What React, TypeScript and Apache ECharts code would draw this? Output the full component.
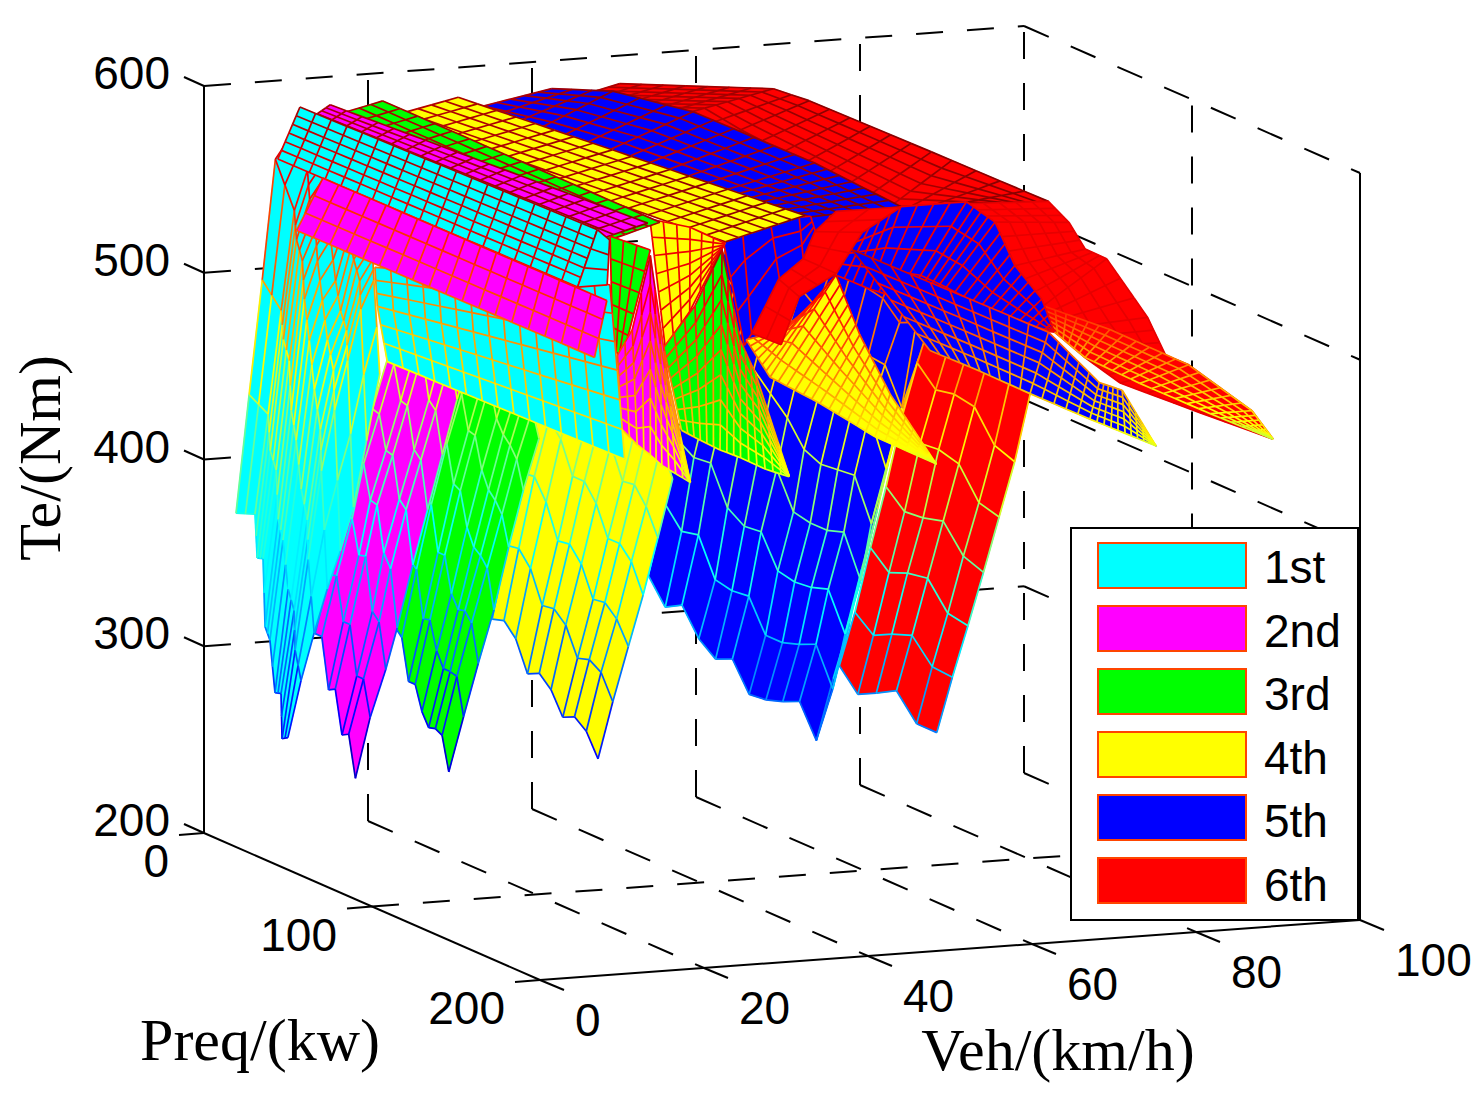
import React, { useEffect, useRef } from "react";
import * as echarts from "echarts";

type P3 = [number, number, number]; // Veh (km/h), Preq (kW), Te (Nm)

const teTicks = [200, 300, 400, 500, 600];
const preqTicks = [0, 100, 200];
const vehTicks = [0, 20, 40, 60, 80, 100];
const gearLabels = ["1st", "2nd", "3rd", "4th", "5th", "6th"];
const gearColors = ["#00ffff", "#ff00ff", "#00ff00", "#ffff00", "#0000ff", "#ff0000"];

// ---- lower walls: Te tables over Veh (rows) and Preq (columns) ----
const wall6Veh = [48.8, 50.7, 52.6, 54.5, 56.4, 58.3, 60.2];
const wall6Preq = [140, 151, 162, 174, 186, 198];
const wall6Te = [
  [329, 318, 323, 329, 316, 316],
  [357, 349, 354, 358, 346, 345],
  [391, 382, 386, 388, 374, 372],
  [423, 414, 415, 418, 404, 400],
  [459, 450, 451, 448, 432, 429],
  [488, 478, 480, 478, 462, 458],
  [514, 505, 506, 506, 497, 494],
];
const wall5Veh = [41.9, 43.9, 45.4, 47.3, 48.6, 50.4, 52.3, 54.1, 56];
const wall5Preq = [60, 70, 80, 90, 100, 110, 120, 130, 140, 150, 160, 170];
const wall5Te = [
  [348, 335, 340, 326, 319, 323, 308, 309, 312, 316, 299, 336],
  [386, 375, 377, 357, 355, 356, 339, 339, 342, 346, 326, 365],
  [420, 414, 415, 395, 389, 390, 373, 371, 372, 375, 355, 394],
  [454, 448, 449, 437, 430, 423, 404, 402, 402, 405, 383, 425],
  [483, 477, 478, 468, 459, 450, 437, 433, 434, 435, 413, 449],
  [510, 503, 504, 497, 488, 481, 466, 465, 466, 467, 442, 478],
  [530, 524, 525, 518, 514, 507, 500, 497, 494, 493, 474, 504],
  [551, 545, 546, 539, 535, 531, 527, 526, 524, 515, 519, 525],
  [567, 560, 561, 554, 553, 552, 547, 546, 545, 543, 542, 540],
];
const wall4Veh = [29, 30.8, 32.7, 34.5, 36.3, 38.1];
const wall4Preq = [30, 37, 44, 51, 58, 65, 72, 79, 86, 93];
const wall4Te = [
  [317, 319, 312, 296, 299, 293, 281, 284, 279, 267],
  [356, 357, 349, 332, 333, 327, 312, 314, 310, 297],
  [394, 395, 384, 366, 367, 359, 343, 344, 338, 326],
  [425, 425, 417, 400, 400, 391, 375, 375, 368, 353],
  [454, 454, 446, 430, 430, 422, 405, 406, 397, 383],
  [485, 485, 477, 462, 462, 454, 437, 438, 429, 414],
];
const wall3Veh = [19.2, 21, 22.8, 24.7, 26.5, 28.3, 30.2];
const wall3Preq = [20, 24, 28, 32, 36, 40, 44, 48, 52];
const wall3Te = [
  [312, 308, 286, 286, 273, 266, 267, 265, 247],
  [347, 344, 319, 320, 305, 297, 297, 296, 276],
  [382, 378, 354, 354, 335, 328, 329, 324, 304],
  [416, 410, 390, 388, 370, 361, 358, 353, 332],
  [443, 436, 418, 417, 400, 391, 387, 381, 365],
  [469, 465, 445, 444, 427, 420, 416, 410, 395],
  [495, 491, 471, 470, 453, 446, 443, 436, 422],
];
const wall2Veh = [11.5, 13.3, 15.2, 16.6, 18.5, 20.3, 22.1, 23.9, 25.8];
const wall2Preq = [10, 14, 18, 22, 26, 30, 34];
const wall2Te = [
  [307, 307, 280, 282, 259, 261, 239],
  [338, 339, 316, 316, 290, 290, 271],
  [370, 369, 351, 352, 324, 320, 296],
  [399, 398, 380, 379, 355, 348, 318],
  [425, 424, 406, 405, 383, 379, 351],
  [451, 450, 432, 431, 409, 405, 380],
  [477, 476, 459, 458, 435, 431, 409],
  [505, 504, 487, 486, 463, 458, 438],
  [526, 525, 508, 507, 487, 482, 466],
];
const wall1Veh = [3, 4.6, 6.2, 7.8, 9.4, 11, 12.6, 14.2];
const wall1Preq = [4.4, 15.7, 17, 20.5, 21.7, 24.6, 27.6, 31.2, 31.8, 35.3];
const wall1Te = [
  [372, 376, 353, 354, 318, 312, 285, 286, 262, 264],
  [435, 429, 410, 401, 375, 365, 340, 330, 309, 294],
  [496, 484, 469, 459, 433, 418, 393, 378, 357, 319],
  [560, 537, 522, 512, 492, 471, 446, 426, 404, 342],
  [570, 558, 543, 528, 512, 492, 472, 457, 436, 362],
  [580, 568, 553, 538, 523, 502, 487, 478, 462, 385],
  [581, 573, 563, 551, 538, 526, 514, 504, 489, 420],
  [576, 570, 560, 551, 543, 534, 524, 515, 504, 455],
];

// ---- upper sheets: rows of [Veh, Preq, Te] control points ----
const top6: P3[][] = [
  [[50.7, 0, 585], [63.3, 30, 590], [61.5, 60, 596], [61.7, 144, 597], [62, 200, 597]],
  [[41, 0, 575], [53.5, 30, 581], [51.8, 60, 581], [52.9, 144, 571], [52, 200, 599]],
];
const shoulder6: P3[][] = [
  [[62, 200, 597], [64.5, 200, 585], [66.5, 200, 570], [69.1, 200, 564], [74.1, 200, 531], [76.3, 200, 510], [79.1, 200, 504], [86.8, 200, 477], [89.4, 200, 461]],
  [[62.3, 150, 576], [65.7, 150, 565], [68.2, 150, 541], [71.5, 150, 518], [72.7, 150, 505], [76.7, 150, 489], [81, 150, 474], [90.7, 150, 455], [99.6, 150, 438]],
];
const tail6: P3[][] = [
  [[61.5, 200, 541], [69.5, 200, 526], [79.1, 200, 504], [86.8, 200, 477], [89.4, 200, 461]],
  [[72.7, 150, 505], [76.7, 150, 489], [83.4, 150, 473], [92, 150, 454], [99.6, 150, 438]],
];
const arch6: P3[][] = [
  [[46.3, 100, 492], [49.6, 100, 520], [52.6, 100, 530], [54, 100, 544], [56.6, 100, 554]],
  [[45.8, 120, 494], [48, 120, 519], [52.5, 120, 530], [55.7, 120, 551], [60.4, 120, 563]],
];
const top5: P3[][] = [
  [[42.4, 0, 585], [43.7, 30, 595], [49.4, 50, 590], [49.9, 120, 590], [44, 200, 600]],
  [[32.4, 0, 577], [34.8, 30, 578], [39.3, 50, 573], [39, 120, 579], [33, 200, 598]],
];
const domeR5: P3[][] = [
  [[39, 200, 588], [44, 200, 600], [52, 200, 600], [55.5, 200, 588], [57.9, 200, 564], [61.2, 200, 545], [62.7, 200, 527]],
  [[46.3, 150, 543], [50.5, 150, 534], [54.8, 150, 527], [57.8, 150, 521], [62.7, 150, 514], [67.6, 150, 507], [72.9, 150, 504]],
];
const domeL5: P3[][] = [
  [[30.6, 160, 569], [32.8, 160, 579], [36.2, 160, 581], [39.8, 160, 580], [41.2, 160, 580]],
  [[41.3, 120, 495], [42.2, 120, 501], [45.6, 120, 529], [48.5, 120, 539], [50, 120, 553]],
];
const tail5: P3[][] = [
  [[38, 200, 579], [50, 200, 553], [62, 200, 527], [68.2, 200, 498], [71, 200, 493], [75.1, 200, 462]],
  [[53.7, 170, 508], [59.8, 170, 495], [65.9, 170, 481], [73.2, 170, 465], [77.5, 170, 456], [81.3, 170, 448]],
];
const tail4: P3[][] = [
  [[30.5, 200, 539], [36.1, 200, 566], [39, 200, 533], [42.7, 200, 500], [48.3, 200, 461]],
  [[31.3, 170, 521], [34.2, 170, 500], [40.3, 170, 484], [47, 170, 464], [54.5, 170, 447]],
];
const top4: P3[][] = [
  [[31, 0, 584], [32.3, 200, 599]],
  [[21.2, 0, 575], [22.6, 200, 588]],
];
const dome4: P3[][] = [
  [[17.5, 180, 594], [22.4, 180, 588], [26.7, 180, 578]],
  [[29.6, 130, 502], [32.6, 130, 520], [36.5, 130, 552]],
];
const top3: P3[][] = [
  [[21.8, 0, 585], [21.8, 165, 585]],
  [[11.7, 0, 575], [12, 165, 573]],
];
const tail3: P3[][] = [
  [[15.1, 200, 534], [18.9, 200, 555], [22.2, 200, 584], [24.4, 200, 535], [26.3, 200, 516], [30.4, 200, 460]],
  [[23.4, 170, 475], [25.7, 170, 469], [28.1, 170, 463], [30.6, 170, 458], [33.6, 170, 451], [36.5, 170, 446]],
];
const notch3: P3[][] = [
  [[10.6, 190, 591], [15.5, 190, 582]],
  [[14, 175, 523], [15.2, 175, 519]],
];
const top2: P3[][] = [
  [[15.4, 0, 585], [15.4, 189, 596]],
  [[11.7, 0, 575], [5.7, 189, 585]],
];
const tail2: P3[][] = [
  [[11.5, 190, 527], [13.3, 190, 540], [15.5, 190, 579], [16.7, 190, 542], [17.7, 190, 512], [20.4, 190, 456]],
  [[16.1, 170, 478], [18, 170, 469], [19.6, 170, 463], [21, 170, 457], [22.7, 170, 452], [24.4, 170, 447]],
];
const mid2: P3[][] = [
  [[14.5, 0, 546], [14.5, 169, 547]],
  [[11.3, 0, 519], [13, 169, 517]],
];
const top1: P3[][] = [
  [[11.7, 0, 585], [11.7, 177, 589]],
  [[9, 0, 558], [9.3, 177, 559]],
];
const end1: P3[][] = [
  [[11.7, 177, 589], [13.2, 177, 583]],
  [[9.3, 177, 559], [12.9, 177, 559]],
];
const mid1: P3[][] = [
  [[14.7, 30, 510], [15.9, 164, 553]],
  [[15, 30, 489], [16.8, 164, 507]],
  [[16.2, 30, 459], [17.7, 164, 459]],
];

const project = (v: number, p: number, z: number) => [
  204 + 8.2 * v + 1.68 * p,
  833 - 0.6 * v + 0.735 * p - 1.8675 * (z - 200),
];

const table = (veh: number[], preq: number[], te: number[][]): P3[][] =>
  veh.map((v, r) => preq.map((p, c) => [v, p, te[r][c]] as P3));

type Sheet = { gear: number; grid: P3[][]; rows: number[] | number; cols: number[] | number; edge?: string };

const SHEETS: Sheet[] = [
  { gear: 5, grid: top6, rows: 7, cols: [7, 2, 7, 4] },
  { gear: 5, grid: shoulder6, rows: 5, cols: 3, edge: "#e60000" },
  { gear: 5, grid: tail6, rows: 5, cols: 6 },
  { gear: 4, grid: table(wall5Veh, wall5Preq, wall5Te), rows: 1, cols: 1 },
  { gear: 4, grid: top5, rows: 6, cols: [3, 3, 6, 7] },
  { gear: 4, grid: domeR5, rows: 4, cols: 4, edge: "#f00000" },
  { gear: 4, grid: domeL5, rows: 3, cols: 1, edge: "#f00000" },
  { gear: 5, grid: table(wall6Veh, wall6Preq, wall6Te), rows: 1, cols: 1 },
  { gear: 4, grid: tail5, rows: 6, cols: 5 },
  { gear: 3, grid: tail4, rows: 6, cols: 6 },
  { gear: 5, grid: arch6, rows: 2, cols: 2, edge: "#e60000" },
  { gear: 3, grid: top4, rows: 6, cols: 18 },
  { gear: 3, grid: dome4, rows: 7, cols: 3, edge: "#f00000" },
  { gear: 3, grid: table(wall4Veh, wall4Preq, wall4Te), rows: 1, cols: 1 },
  { gear: 2, grid: top3, rows: 7, cols: 16 },
  { gear: 2, grid: table(wall3Veh, wall3Preq, wall3Te), rows: 1, cols: 1 },
  { gear: 2, grid: tail3, rows: 8, cols: 3 },
  { gear: 1, grid: top2, rows: 7, cols: 20 },
  { gear: 1, grid: table(wall2Veh, wall2Preq, wall2Te), rows: 1, cols: 1 },
  { gear: 2, grid: notch3, rows: 5, cols: 3, edge: "#f00000" },
  { gear: 1, grid: tail2, rows: 7, cols: 2 },
  { gear: 0, grid: table(wall1Veh, wall1Preq, wall1Te), rows: 1, cols: 2 },
  { gear: 0, grid: mid1, rows: 3, cols: 15 },
  { gear: 0, grid: top1, rows: 6, cols: 19 },
  { gear: 0, grid: end1, rows: 3, cols: 1 },
  { gear: 1, grid: mid2, rows: 3, cols: 18 },
];

const jet = (t: number) => {
  const c = (x: number) => Math.round(255 * Math.max(0, Math.min(1, x)));
  const r = 1.5 - Math.abs(4 * t - 3);
  const g = 1.5 - Math.abs(4 * t - 2);
  const b = 1.5 - Math.abs(4 * t - 1);
  return `rgb(${c(r)},${c(g)},${c(b)})`;
};
const edgeColor = (z: number) => jet((z - 225) / 375);

const lerp3 = (a: P3, b: P3, t: number): P3 => [a[0] + (b[0] - a[0]) * t, a[1] + (b[1] - a[1]) * t, a[2] + (b[2] - a[2]) * t];

const steps = (sub: number[] | number, n: number) => {
  const out: [number, number][] = [];
  for (let i = 0; i < n - 1; i++) {
    const k = Array.isArray(sub) ? sub[i] : sub;
    for (let j = 0; j < k; j++) out.push([i, j / k]);
  }
  out.push([n - 2, 1]);
  return out;
};

const meshOf = (s: Sheet): P3[][] => {
  const nr = s.grid.length;
  const nc = s.grid[0].length;
  const rs = steps(s.rows, nr);
  const cs = steps(s.cols, nc);
  return rs.map(([ri, rt]) =>
    cs.map(([ci, ct]) => {
      const top = lerp3(s.grid[ri][ci], s.grid[ri][ci + 1], ct);
      const bot = lerp3(s.grid[ri + 1][ci], s.grid[ri + 1][ci + 1], ct);
      return lerp3(top, bot, rt);
    })
  );
};

export default function App() {
  const ref = useRef<HTMLDivElement>(null);
  useEffect(() => {
    const chart = echarts.init(ref.current!, undefined, { renderer: "svg" });
    const serif = '"Liberation Serif"';
    const sans = '"Liberation Sans"';

    const renderBox = (_: any, api: any) => {
      const kids: any[] = [];
      const pt = (v: number, p: number, z: number) => api.coord(project(v, p, z));
      const seg = (a: number[], b: number[], dashed: boolean, w = 2) =>
        kids.push({
          type: "line",
          shape: { x1: a[0], y1: a[1], x2: b[0], y2: b[1] },
          style: { stroke: "#000", lineWidth: w, lineDash: dashed ? [27, 24] : undefined },
        });
      const label = (text: string, x: number, y: number, align: string) =>
        kids.push({
          type: "text",
          style: { text, x, y, fill: "#000", fontSize: 46, fontFamily: sans, align, verticalAlign: "middle" },
        });
      teTicks.forEach((z) => {
        if (z > 200) {
          seg(pt(0, 0, z), pt(100, 0, z), true);
          seg(pt(100, 0, z), pt(100, 200, z), true);
        }
        const a = pt(0, 0, z);
        seg(a, [a[0] - 20, a[1] - 9], false);
        label(String(z), 170, a[1] - 13, "right");
      });
      vehTicks.forEach((v) => {
        if (v > 0) {
          seg(pt(v, 0, 200), pt(v, 0, 600), true);
          seg(pt(v, 0, 200), pt(v, 200, 200), true);
        }
        const a = pt(v, 200, 200);
        seg(a, [a[0] + 24, a[1] + 10], false);
        label(String(v), a[0] + 35, a[1] + 40, "left");
      });
      preqTicks.forEach((p) => {
        if (p === 100) {
          seg(pt(0, p, 200), pt(100, p, 200), true);
          seg(pt(100, p, 200), pt(100, p, 600), true);
        }
        const a = pt(0, p, 200);
        seg(a, [a[0] - 25, a[1] + 2], false);
        label(String(p), a[0] - 35, a[1] + 28, "right");
      });
      seg(pt(0, 0, 200), pt(0, 0, 600), false);
      seg(pt(0, 0, 200), pt(0, 200, 200), false);
      seg(pt(0, 200, 200), pt(100, 200, 200), false);
      seg(pt(100, 200, 200), pt(100, 200, 600), false);
      return { type: "group", children: kids };
    };

    const renderSheet = (params: any, api: any) => {
      const s = SHEETS[params.dataIndex];
      const mesh = meshOf(s);
      const xy = mesh.map((row) => row.map((q) => api.coord(project(q[0], q[1], q[2]))));
      const fill = gearColors[s.gear];
      const kids: any[] = [];
      for (let r = 0; r < mesh.length - 1; r++)
        for (let c = 0; c < mesh[0].length - 1; c++)
          kids.push({
            type: "polygon",
            shape: { points: [xy[r][c], xy[r][c + 1], xy[r + 1][c + 1], xy[r + 1][c]] },
            style: { fill, stroke: fill, lineWidth: 0.6 },
          });
      const seg = (r1: number, c1: number, r2: number, c2: number) =>
        kids.push({
          type: "line",
          shape: { x1: xy[r1][c1][0], y1: xy[r1][c1][1], x2: xy[r2][c2][0], y2: xy[r2][c2][1] },
          style: { stroke: s.edge || edgeColor((mesh[r1][c1][2] + mesh[r2][c2][2]) / 2), lineWidth: 1.7 },
        });
      for (let r = 0; r < mesh.length; r++)
        for (let c = 0; c < mesh[0].length; c++) {
          if (c + 1 < mesh[0].length) seg(r, c, r, c + 1);
          if (r + 1 < mesh.length) seg(r, c, r + 1, c);
        }
      return { type: "group", children: kids };
    };

    const legendItems = gearLabels.flatMap((name, i) => [
      {
        type: "rect",
        z: 101,
        shape: { x: 1098, y: 543 + i * 63, width: 148, height: 45 },
        style: { fill: gearColors[i], stroke: "#ff4500", lineWidth: 2 },
      },
      {
        type: "text",
        z: 101,
        style: { text: name, x: 1264, y: 567 + i * 63.6, fill: "#000", fontSize: 46, fontFamily: sans, align: "left", verticalAlign: "middle" },
      },
    ]);

    chart.setOption({
      animation: false,
      backgroundColor: "#fff",
      grid: { left: 0, right: 0, top: 0, bottom: 0 },
      xAxis: { type: "value", min: 0, max: 1481, show: false },
      yAxis: { type: "value", min: 0, max: 1093, inverse: true, show: false },
      series: [
        { type: "custom", silent: true, clip: false, coordinateSystem: "cartesian2d", data: [[0, 0]], encode: { x: 0, y: 1 }, renderItem: renderBox, z: 1 },
        { type: "custom", silent: true, clip: false, coordinateSystem: "cartesian2d", data: SHEETS.map((_, i) => [i, 0]), encode: { x: 0, y: 1 }, renderItem: renderSheet, z: 2 },
      ],
      graphic: [
        { type: "rect", z: 100, shape: { x: 1071, y: 528, width: 287, height: 392 }, style: { fill: "#fff", stroke: "#000", lineWidth: 2 } },
        ...legendItems,
        { type: "text", z: 101, x: 40, y: 458, rotation: Math.PI / 2, style: { text: "Te/(Nm)", fill: "#000", fontSize: 60, fontFamily: serif, align: "center", verticalAlign: "middle" } },
        { type: "text", z: 101, style: { text: "Preq/(kw)", x: 260, y: 1040, fill: "#000", fontSize: 60, fontFamily: serif, align: "center", verticalAlign: "middle" } },
        { type: "text", z: 101, style: { text: "Veh/(km/h)", x: 1058, y: 1050, fill: "#000", fontSize: 60, fontFamily: serif, align: "center", verticalAlign: "middle" } },
      ],
    });
    return () => chart.dispose();
  }, []);
  return <div ref={ref} style={{ position: "absolute", left: 0, top: 0, width: 1481, height: 1093 }} />;
}
